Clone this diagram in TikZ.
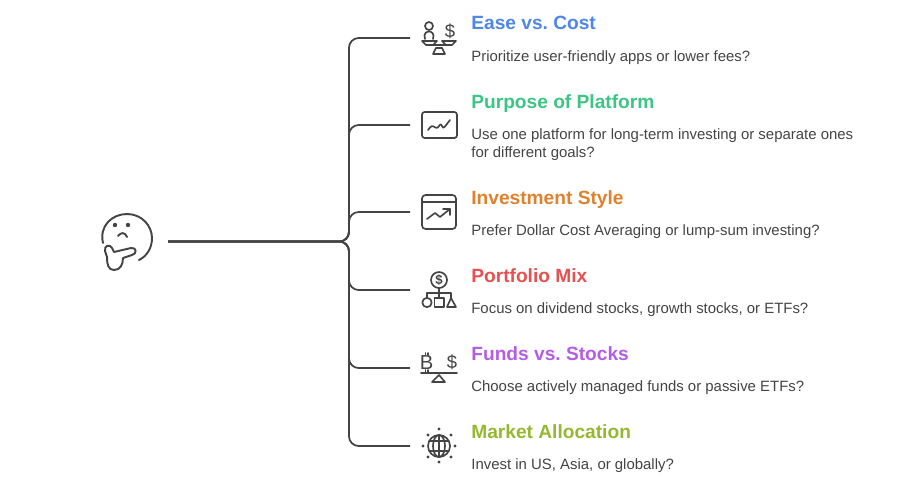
\documentclass[tikz,border=0pt]{standalone}
\usepackage{fontspec}
\setmainfont{Liberation Sans}
\usepackage{xcolor}
\definecolor{inkgray}{HTML}{444444}
\definecolor{easeblue}{HTML}{4F86E8}
\definecolor{purposegreen}{HTML}{3CC583}
\definecolor{styleorange}{HTML}{E0812E}
\definecolor{mixred}{HTML}{E8504F}
\definecolor{fundspurple}{HTML}{B45CE6}
\definecolor{marketolive}{HTML}{94B92F}
\newcommand{\pxsize}{\fontsize{8.5pt}{10.2pt}\selectfont}
\begin{document}
\frenchspacing
\begin{tikzpicture}[
  x=0.02cm, y=-0.02cm,
  title/.style={anchor=base west, inner sep=0pt, font=\fontsize{10.9pt}{12pt}\selectfont\bfseries},
  body/.style={anchor=base west, inner sep=0pt, text=inkgray, font=\pxsize, align=left},
  link/.style={draw=inkgray, line width=1pt, rounded corners=5.5pt},
  icon/.style={draw=inkgray, line width=0.95pt, line cap=round, line join=round},
  glyph/.style={inner sep=0pt, text=inkgray, font=\fontsize{10.5pt}{11pt}\selectfont}
]
\useasboundingbox (0,0) rectangle (902,485);

% Hub and branch ends
\coordinate (hub) at (168,241.5);
\coordinate (stem) at (349,241.5);
\coordinate (ease-end) at (410,38);
\coordinate (purpose-end) at (410,125);
\coordinate (style-end) at (410,212);
\coordinate (mix-end) at (410,290);
\coordinate (funds-end) at (410,368);
\coordinate (market-end) at (410,446);

% Connectors
\draw[link] (hub) -- (stem) |- (ease-end);
\draw[link] (hub) -- (stem) |- (purpose-end);
\draw[link] (hub) -- (stem) |- (style-end);
\draw[link] (hub) -- (stem) |- (mix-end);
\draw[link] (hub) -- (stem) |- (funds-end);
\draw[link] (hub) -- (stem) |- (market-end);

% Titles and questions
\node[title, text=easeblue] (ease-title) at (471,29) {Ease vs. Cost};
\node[body] (ease-text) at (471,61) {Prioritize user-friendly apps or lower fees?};
\node[title, text=purposegreen] (purpose-title) at (471,108) {Purpose of Platform};
\node[body] (purpose-text) at (471,157) {Use one platform for long-term investing or separate ones\\for different goals?};
\node[title, text=styleorange] (style-title) at (471,204) {Investment Style};
\node[body] (style-text) at (471,235) {Prefer Dollar Cost Averaging or lump-sum investing?};
\node[title, text=mixred] (mix-title) at (471,282) {Portfolio Mix};
\node[body] (mix-text) at (471,313) {Focus on dividend stocks, growth stocks, or ETFs?};
\node[title, text=fundspurple] (funds-title) at (471,360) {Funds vs. Stocks};
\node[body] (funds-text) at (471,391) {Choose actively managed funds or passive ETFs?};
\node[title, text=marketolive] (market-title) at (471,438) {Market Allocation};
\node[body] (market-text) at (471,469) {Invest in US, Asia, or globally?};

% Thinking face
\draw[icon, line width=1.1pt] (103,243) .. controls (99,226) and (112,214) .. (127,214) .. controls (142,214) and (152,226) .. (152,238) .. controls (152,248) and (147,256) .. (139,260);
\fill[inkgray] (115,225) circle (2.2) (128,225) circle (2.2);
\draw[icon, line width=1.1pt] (118,236) .. controls (121,232) and (125,232) .. (127,237);
\draw[icon, line width=1.1pt] (114,252) -- (131,248) .. controls (137,247) and (137,254) .. (132,255) -- (123,258) .. controls (123,265) and (120,270) .. (114,270) .. controls (108,270) and (107,264) .. (107,257) -- (105,251) .. controls (104,245) and (110,244) .. (112,248) -- cycle;

% Scale with person and dollar
\draw[icon] (429,26) circle (4);
\draw[icon] (425,39) .. controls (423,33) and (427,31.5) .. (429,31.5) .. controls (431,31.5) and (435,33) .. (433,39);
\draw[icon] (422,41) -- (437,41) -- (433,45) -- (426,45) -- cycle;
\draw[icon] (442,41) -- (456,41) -- (452,45) -- (446,45) -- cycle;
\draw[icon] (433,45) -- (446,45);
\draw[icon] (436,48) -- (442,48) -- (445,54) -- (433,54) -- cycle;
\node[glyph] (ease-dollar) at (450,31) {\$};

% Chart window
\draw[icon, rounded corners=1.5pt] (422,112) rectangle (457,138);
\draw[icon, rounded corners=1.5pt] (428,130) -- (432,125) -- (437,129) -- (441,123) -- (443,129) -- (450,120);

% Trend window
\draw[icon, rounded corners=2pt] (422,195) rectangle (456,229);
\draw[icon] (422,202) -- (456,202);
\draw[icon] (427,219) -- (435,213) -- (440,217) -- (450,209);
\draw[icon] (443,209) -- (450,209) -- (450,215);

% Coin and shapes tree
\draw[icon] (439,280) circle (8);
\node[glyph, font=\fontsize{7.5pt}{7.5pt}\selectfont\bfseries] (mix-dollar) at (439,280) {\$};
\draw[icon] (439,288) -- (439,298) (427,298) -- (427,293) -- (451,293) -- (451,298);
\draw[icon] (427,302.5) circle (4.7);
\draw[icon] (434.5,298) rectangle (444,307);
\draw[icon] (447,307) -- (451,298) -- (456,307) -- cycle;

% Seesaw with currencies
\node[glyph, font=\fontsize{11.5pt}{12pt}\selectfont] (funds-coin) at (426.5,362.5) {B};
\draw[icon] (425.5,353) -- (425.5,355) (425.5,370) -- (425.5,372) (428,353) -- (428,355) (428,370) -- (428,372);
\node[glyph] (funds-dollar) at (452,362) {\$};
\draw[icon] (421,373) -- (457,373);
\draw[icon] (439,375) -- (445,382) -- (432,382) -- cycle;

% Globe with dots
\draw[icon] (439,446) circle (11);
\draw[icon] (439,446) ellipse (6 and 11);
\draw[icon] (429.2,441) -- (448.8,441) (429.2,451) -- (448.8,451) (439,435) -- (439,457);
\foreach \px/\py in {439/429, 439/462, 423/446, 455/446, 428/435, 451/435, 428/457, 451/457}
  \fill[inkgray] (\px,\py) circle (1.6);
\end{tikzpicture}
\end{document}
